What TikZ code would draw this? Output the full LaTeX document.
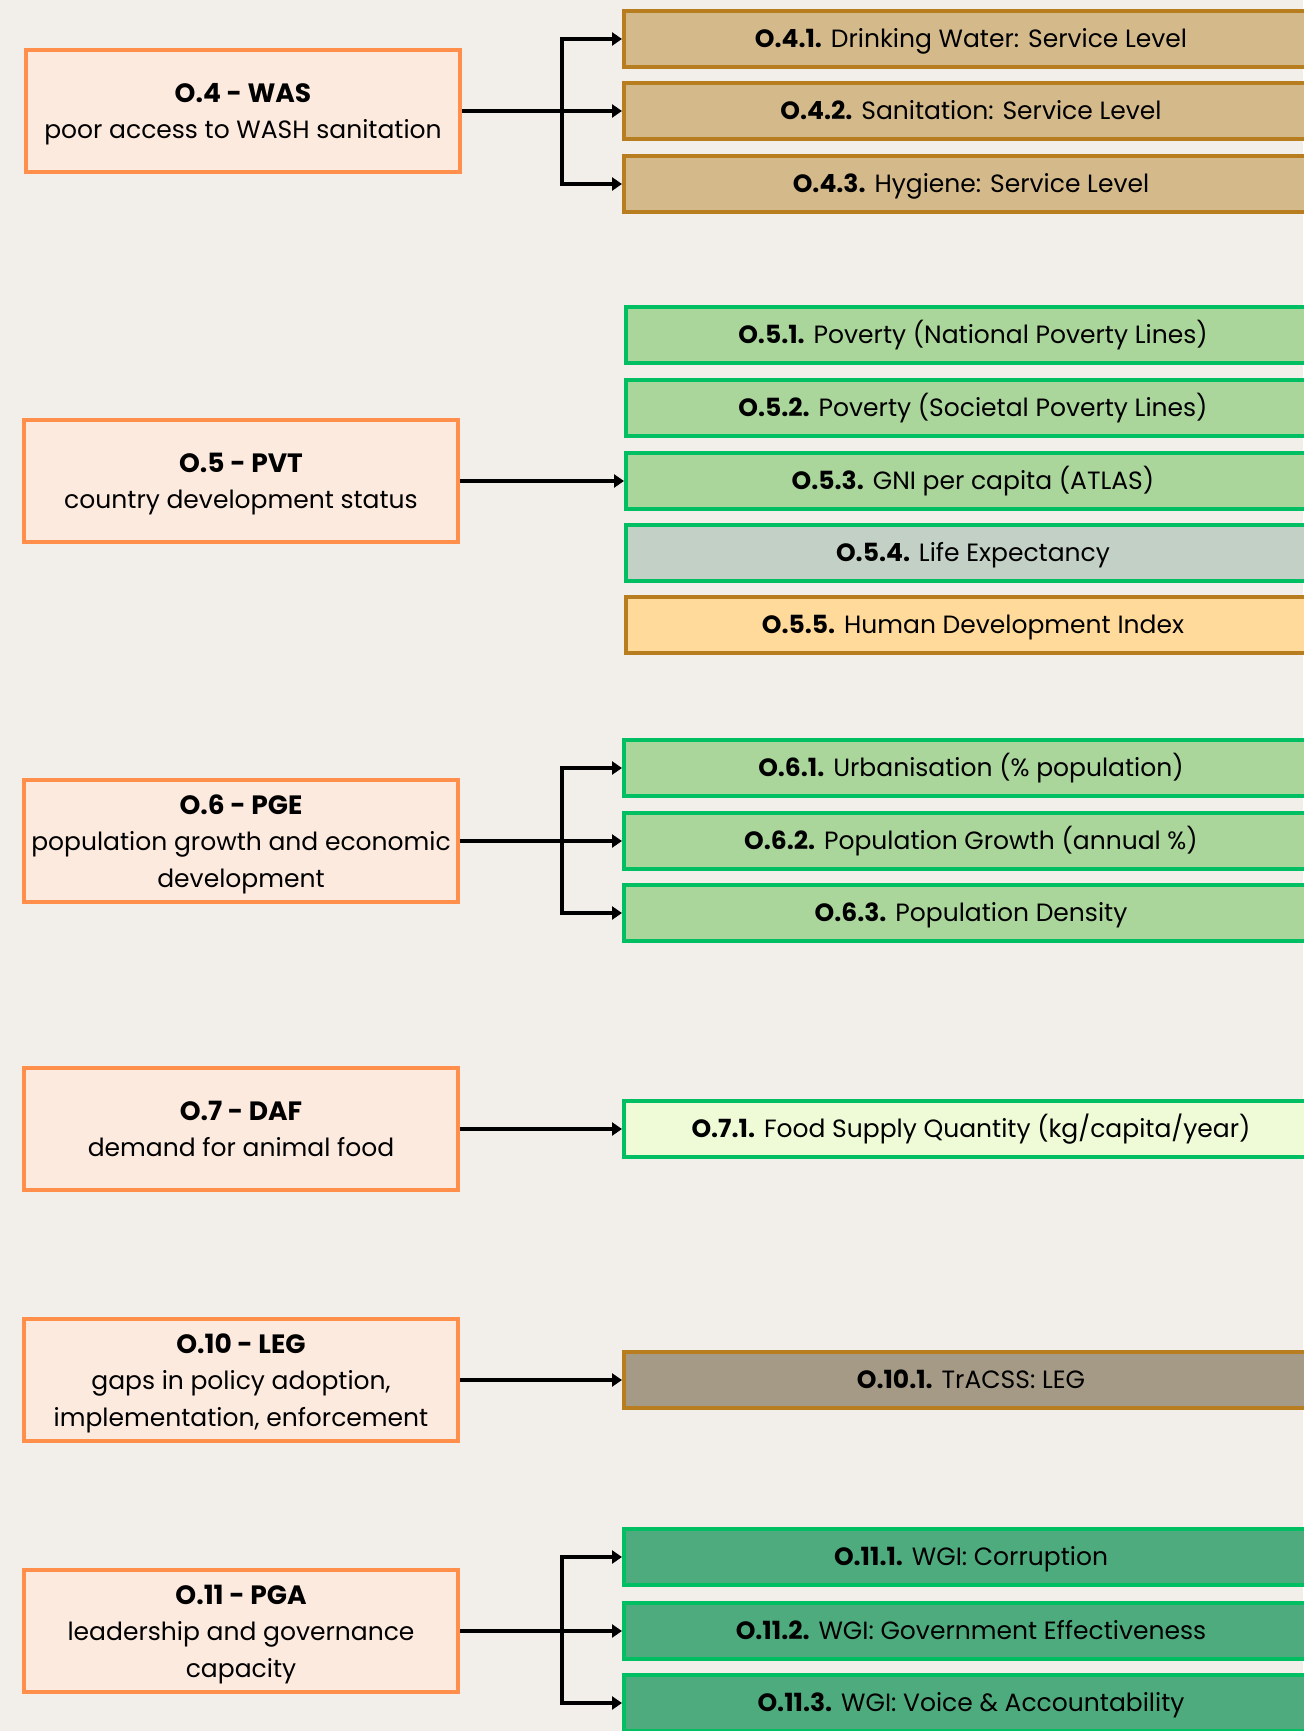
\documentclass[tikz,border=0pt]{standalone}
\usepackage{fontspec}
\setmainfont{Poppins}
\usetikzlibrary{arrows.meta}
\definecolor{paper}{HTML}{F2EFEA}
\definecolor{peach}{HTML}{FDEADF}
\definecolor{orangeline}{HTML}{FF8F4A}
\definecolor{tanfill}{HTML}{D4B98B}
\definecolor{tanline}{HTML}{B77D1E}
\definecolor{leaffill}{HTML}{AAD59B}
\definecolor{leafline}{HTML}{00BF63}
\definecolor{sagefill}{HTML}{C2D0C6}
\definecolor{apricot}{HTML}{FFDA9B}
\definecolor{limefill}{HTML}{EFFBD7}
\definecolor{stonefill}{HTML}{A59A86}
\definecolor{forest}{HTML}{4DAB7E}
% heading line inside a cause box
\newcommand{\causehead}[1]{{\fontsize{26.5}{36.5}\selectfont\bfseries #1}}
\begin{document}
\begin{tikzpicture}[x=1pt,y=-1pt,
  cause/.style={draw=orangeline, fill=peach, line width=4pt,
    minimum width=434pt, minimum height=122pt, inner sep=0pt,
    text depth=0pt, align=center, font=\fontsize{25}{36.5}\selectfont},
  ind/.style={line width=4pt, minimum width=694pt, minimum height=56pt,
    inner sep=0pt, text height=17.5pt, text depth=0pt,
    font=\fontsize{25}{28}\selectfont},
  tanbox/.style={ind, draw=tanline, fill=tanfill},
  leafbox/.style={ind, draw=leafline, fill=leaffill},
  sagebox/.style={ind, draw=leafline, fill=sagefill},
  apricotbox/.style={ind, draw=tanline, fill=apricot},
  limebox/.style={ind, draw=leafline, fill=limefill},
  stonebox/.style={ind, draw=tanline, fill=stonefill},
  forestbox/.style={ind, draw=leafline, fill=forest},
  arr/.style={line width=3.2pt, -{Triangle[length=10pt,width=13pt]}}]
% paper background and page size
\fill[paper] (0,0) rectangle (1303,1731);
\useasboundingbox (0,0) rectangle (1303,1731);

% causes (left column)
\node[cause] (p4)  at (243,111)  {\causehead{O.4 - WAS}\\poor access to WASH sanitation};
\node[cause] (p5)  at (241,481)  {\causehead{O.5 - PVT}\\country development status};
\node[cause] (p6)  at (241,841)  {\causehead{O.6 - PGE}\\population growth and economic\\development};
\node[cause] (p7)  at (241,1129) {\causehead{O.7 - DAF}\\demand for animal food};
\node[cause] (p10) at (241,1380) {\causehead{O.10 - LEG}\\gaps in policy adoption,\\implementation, enforcement};
\node[cause] (p11) at (241,1631) {\causehead{O.11 - PGA}\\leadership and governance\\capacity};

% indicators (right column)
\node[tanbox] (c41) at (971,39)    {\textbf{O.4.1.} Drinking Water: Service Level};
\node[tanbox] (c42) at (971,111)   {\textbf{O.4.2.} Sanitation: Service Level};
\node[tanbox] (c43) at (971,184)   {\textbf{O.4.3.} Hygiene: Service Level};

\node[leafbox]    (c51) at (973,335)   {\textbf{O.5.1.} Poverty (National Poverty Lines)};
\node[leafbox]    (c52) at (973,407.5) {\textbf{O.5.2.} Poverty (Societal Poverty Lines)};
\node[leafbox]    (c53) at (973,481)   {\textbf{O.5.3.} GNI per capita (ATLAS)};
\node[sagebox]    (c54) at (973,552.5) {\textbf{O.5.4.} Life Expectancy};
\node[apricotbox] (c55) at (973,625)   {\textbf{O.5.5.} Human Development Index};

\node[leafbox] (c61) at (971,768) {\textbf{O.6.1.} Urbanisation (\% population)};
\node[leafbox] (c62) at (971,841) {\textbf{O.6.2.} Population Growth (annual \%)};
\node[leafbox] (c63) at (971,913) {\textbf{O.6.3.} Population Density};

\node[limebox] (c71) at (971,1129) {\textbf{O.7.1.} Food Supply Quantity (kg/capita/year)};

\node[stonebox] (c101) at (971,1380) {\textbf{O.10.1.} TrACSS: LEG};

\node[forestbox] (c111) at (971,1557) {\textbf{O.11.1.} WGI: Corruption};
\node[forestbox] (c112) at (971,1631) {\textbf{O.11.2.} WGI: Government Effectiveness};
\node[forestbox] (c113) at (971,1703) {\textbf{O.11.3.} WGI: Voice \& Accountability};

% branch points
\coordinate (b4)  at (562,111);
\coordinate (b6)  at (562,841);
\coordinate (b11) at (562,1631);

% connectors
\draw[arr] (p4.east) -- (c42.west);
\draw[arr] (b4) |- (c41.west);
\draw[arr] (b4) |- (c43.west);

\draw[arr] (p5.east) -- (c53.west);

\draw[arr] (p6.east) -- (c62.west);
\draw[arr] (b6) |- (c61.west);
\draw[arr] (b6) |- (c63.west);

\draw[arr] (p7.east) -- (c71.west);

\draw[arr] (p10.east) -- (c101.west);

\draw[arr] (p11.east) -- (c112.west);
\draw[arr] (b11) |- (c111.west);
\draw[arr] (b11) |- (c113.west);
\end{tikzpicture}
\end{document}
